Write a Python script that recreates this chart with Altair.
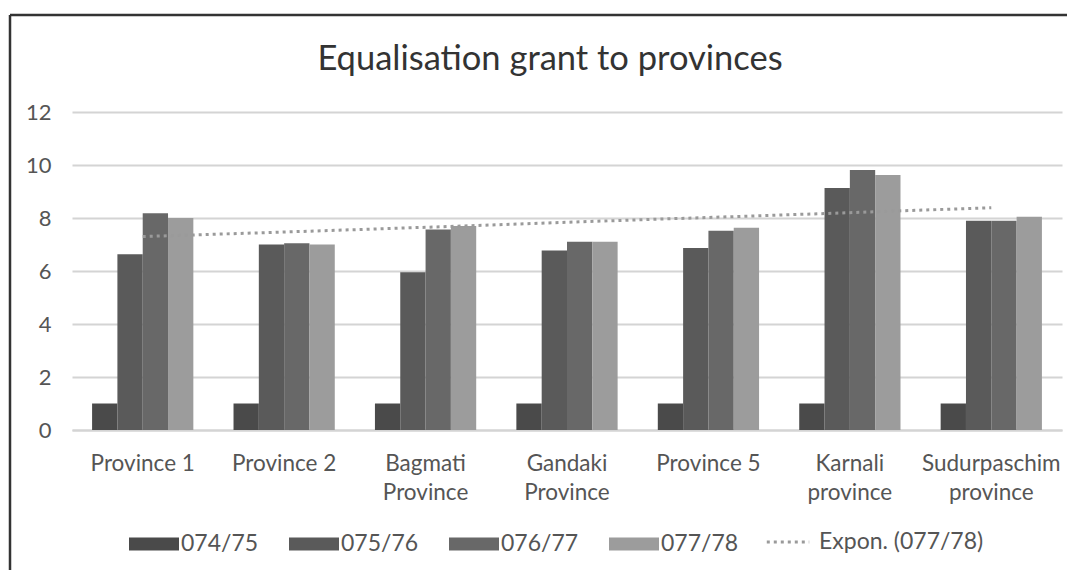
import altair as alt
import pandas as pd

categories = ["Province 1", "Province 2", "Bagmati Province", "Gandaki Province",
              "Province 5", "Karnali province", "Sudurpaschim province"]
series = ["074/75", "075/76", "076/77", "077/78"]
v_074_75 = [1, 1, 1, 1, 1, 1, 1]
v_075_76 = [6.63, 7.0, 5.95, 6.77, 6.87, 9.13, 7.9]
v_076_77 = [8.18, 7.05, 7.57, 7.1, 7.52, 9.81, 7.9]
v_077_78 = [8.0, 7.0, 7.7, 7.1, 7.63, 9.62, 8.05]
trend_label = "Expon. (077/78)"
trend_values = [7.3, 7.47, 7.65, 7.84, 8.02, 8.2, 8.39]
y_ticks = [0, 2, 4, 6, 8, 10, 12]
colors = ["#4a4a4a", "#5a5a5a", "#686868", "#9c9c9c"]
title_text = "Equalisation grant to provinces"

FONT = "Lato"

rows = []
for s, vals in zip(series, [v_074_75, v_075_76, v_076_77, v_077_78]):
    for c, v in zip(categories, vals):
        rows.append({"category": c, "series": s, "value": v})
df = pd.DataFrame(rows)
tdf = pd.DataFrame({"category": categories, "value": trend_values, "label": trend_label})

x_enc = alt.X(
    "category:N", sort=categories,
    scale=alt.Scale(paddingInner=0.284, paddingOuter=0.142),
    axis=alt.Axis(
        title=None, labelAngle=0, ticks=False, domain=True,
        domainColor="#d4d4d4", domainWidth=2,
        labelExpr="test(/^Province \\d/, datum.value) ? datum.value : split(datum.value, ' ')",
        labelFont=FONT, labelFontSize=22.5, labelColor="#555555", labelPadding=22,
        labelLineHeight=29,
    ),
)
y_enc = alt.Y(
    "value:Q", scale=alt.Scale(domain=[0, 12], nice=False),
    axis=alt.Axis(
        title=None, values=y_ticks, ticks=False, domain=False,
        grid=True, gridColor="#d4d4d4", gridWidth=2,
        labelFont=FONT, labelFontSize=22, labelColor="#555555", labelPadding=21,
    ),
)

bars = alt.Chart(df).mark_bar().encode(
    x=x_enc,
    xOffset=alt.XOffset("series:N", sort=series,
                        scale=alt.Scale(paddingInner=0, paddingOuter=0)),
    y=y_enc,
    color=alt.Color(
        "series:N",
        scale=alt.Scale(domain=series, range=colors),
        legend=alt.Legend(
            title=None, orient="none", direction="horizontal",
            legendX=57, legendY=407,
            symbolType="M-1,-0.26H1V0.26H-1Z", symbolSize=2500,
            symbolStrokeWidth=0, symbolOpacity=1,
            labelFont=FONT, labelFontSize=23, labelColor="#555555",
            labelOffset=2, columnPadding=30, labelLimit=300,
        ),
    ),
)

trend = alt.Chart(tdf).mark_line(strokeWidth=3, color="#9a9a9a").encode(
    x=alt.X("category:N", sort=categories),
    y=alt.Y("value:Q"),
    strokeDash=alt.StrokeDash(
        "label:N",
        scale=alt.Scale(domain=[trend_label], range=[[3, 4]]),
        legend=alt.Legend(
            title=None, orient="none", direction="horizontal",
            legendX=693, legendY=407,
            symbolType="stroke", symbolSize=1800,
            symbolStrokeColor="#9a9a9a", symbolStrokeWidth=3,
            labelFont=FONT, labelFontSize=23, labelColor="#555555",
            labelOffset=8, labelLimit=300,
        ),
    ),
)

frame_left = alt.Chart(tdf.head(1)).mark_rule(color="#333333", strokeWidth=2.5).encode(
    x=alt.value(-62), y=alt.value(-97), y2=alt.value(470)
)
frame_top = alt.Chart(tdf.head(1)).mark_rule(color="#333333", strokeWidth=2.5).encode(
    x=alt.value(-62), x2=alt.value(1000), y=alt.value(-97)
)

chart = alt.layer(bars, trend, frame_left, frame_top).properties(
    width=990, height=318,
    autosize=alt.AutoSizeParams(type="none"),
    padding={"left": 64, "top": 104, "right": 5, "bottom": 140},
    title=alt.TitleParams(
        title_text, anchor="middle", font=FONT, fontSize=34.5,
        fontWeight="normal", color="#333333", offset=-64, dx=-17,
    ),
).configure_view(stroke=None).resolve_scale(strokeDash="independent")

chart.save("out.html", embed_options={"renderer": "svg", "actions": False})
